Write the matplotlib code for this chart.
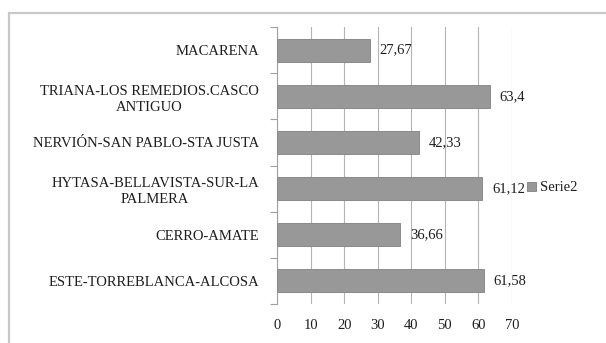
import matplotlib.pyplot as plt
from matplotlib.patches import Rectangle
from matplotlib.ticker import FixedLocator

# districts from top to bottom, with their values
districts = ["MACARENA",
             "TRIANA-LOS REMEDIOS.CASCO\nANTIGUO",
             "NERVIÓN-SAN PABLO-STA JUSTA",
             "HYTASA-BELLAVISTA-SUR-LA\nPALMERA",
             "CERRO-AMATE",
             "ESTE-TORREBLANCA-ALCOSA"]
values = [27.67, 63.4, 42.33, 61.12, 36.66, 61.58]
value_labels = ["27,67", "63,4", "42,33", "61,12", "36,66", "61,58"]
x_ticks = [0, 10, 20, 30, 40, 50, 60, 70]

plt.rcParams['font.family'] = ['Liberation Serif', 'DejaVu Serif']
txt = '#1e1e1e'
fs = 10.5

fig = plt.figure(figsize=(6.06, 3.43), dpi=100)
fig.patch.set_facecolor('white')

# outer chart frame
fig.patches.append(Rectangle((9 / 606, -0.1), 1.2, 0.1 + (343 - 13) / 343,
                             transform=fig.transFigure, fill=False,
                             edgecolor='#c8c8c8', linewidth=1.6))

ax = fig.add_axes([277 / 606, 1 - 304 / 343, (512 - 277) / 606, (304 - 27) / 343])

pos = list(range(len(districts)))[::-1]
ax.barh(pos, values, height=0.5, color='#989898', edgecolor='#8a8a8a',
        linewidth=0.7, zorder=3, label='Serie2')

for p, v, lab in zip(pos, values, value_labels):
    ax.annotate(lab, (v, p), xytext=(7, 0), textcoords='offset points',
                va='center', ha='left', fontsize=fs, color=txt)

ax.set_xlim(0, 70)
ax.set_ylim(-0.5, len(districts) - 0.5)
ax.set_xticks(x_ticks)
ax.set_xticklabels([str(t) for t in x_ticks], fontsize=fs, color=txt)
ax.set_yticks(pos)
ax.set_yticklabels(districts, fontsize=fs, color=txt, linespacing=1.3,
                   multialignment='center')
ax.yaxis.set_minor_locator(FixedLocator([i - 0.5 for i in range(len(districts) + 1)]))
ax.tick_params(axis='y', which='major', length=0, pad=13)
ax.tick_params(axis='y', which='minor', length=5, color='#a0a0a0', width=0.8)
ax.tick_params(axis='x', length=0, pad=11)

ax.grid(axis='x', color='#b4b4b4', linewidth=0.8, zorder=0)
for s in ['top', 'right', 'bottom']:
    ax.spines[s].set_visible(False)
ax.spines['left'].set_color('#a0a0a0')
ax.spines['left'].set_linewidth(0.8)

fig.legend(loc='center left', bbox_to_anchor=(514 / 606, 1 - 188 / 343),
           frameon=False, fontsize=fs, handlelength=0.6, handleheight=0.6,
           handletextpad=0.3, labelcolor=txt)

fig.savefig('out.png', dpi=100, facecolor='white')
